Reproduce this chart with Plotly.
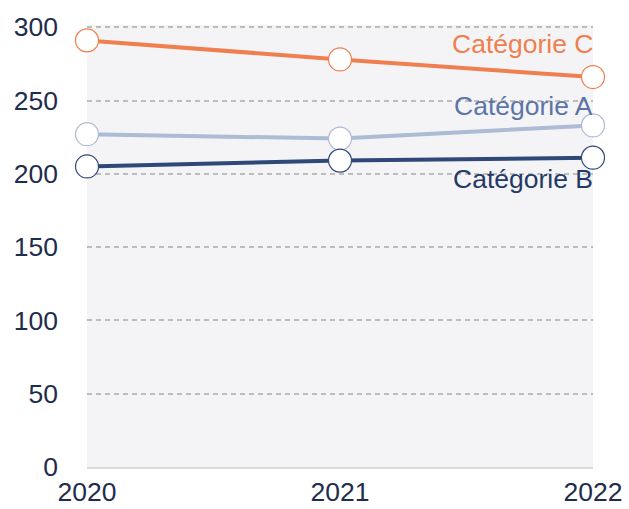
import plotly.graph_objects as go

years = [2020, 2021, 2022]
cat_a = [227, 224, 233]
cat_b = [205, 209, 211]
cat_c = [291, 278, 266]
names = ["Catégorie A", "Catégorie B", "Catégorie C"]
y_ticks = [0, 50, 100, 150, 200, 250, 300]

line_colors = ["#adbbd5", "#2f4878", "#ef7f4e"]
label_colors = ["#5c74a6", "#243a66", "#ef7f4e"]
label_shift = [19, -21, 33]

FONT = "Liberation Sans"
fig = go.Figure()
for vals, name, lc in zip([cat_a, cat_b, cat_c], names, line_colors):
    fig.add_trace(go.Scatter(
        x=years, y=vals, name=name, mode="lines+markers",
        line=dict(color=lc, width=4),
        marker=dict(size=23, color="white", line=dict(color=lc, width=1.2)),
        cliponaxis=False, showlegend=False,
    ))

for vals, name, col, sh in zip([cat_a, cat_b, cat_c], names, label_colors, label_shift):
    fig.add_annotation(x=years[-1], y=vals[-1], text=name, showarrow=False,
                       xanchor="right", yanchor="middle", yshift=sh, xshift=2,
                       font=dict(family=FONT, size=26.5, color=col))

fig.update_layout(
    width=629, height=509,
    margin=dict(l=87, r=36, t=25, b=42, autoexpand=False),
    paper_bgcolor="white", plot_bgcolor="#f4f4f7",
    font=dict(family=FONT, color="#1f2d4d"),
)
fig.update_xaxes(range=[2020, 2022], tickvals=years, ticktext=[str(y) for y in years],
                 showgrid=False, zeroline=False, showline=True, linecolor="#dadada",
                 linewidth=2, tickfont=dict(size=26.5, family=FONT, color="#1f2d4d"),
                 ticklabelstandoff=0, automargin=False)
fig.update_yaxes(range=[0, 301.5], tickvals=y_ticks, showgrid=True, gridcolor="#bdbdbd",
                 griddash="5px,4px", gridwidth=2, zeroline=False, showline=False,
                 tickfont=dict(size=26.5, family=FONT, color="#1f2d4d"),
                 ticklabelstandoff=28, automargin=False)

fig.write_html("out.html", post_script="document.body.style.margin='0';",
               config={"displayModeBar": False})
